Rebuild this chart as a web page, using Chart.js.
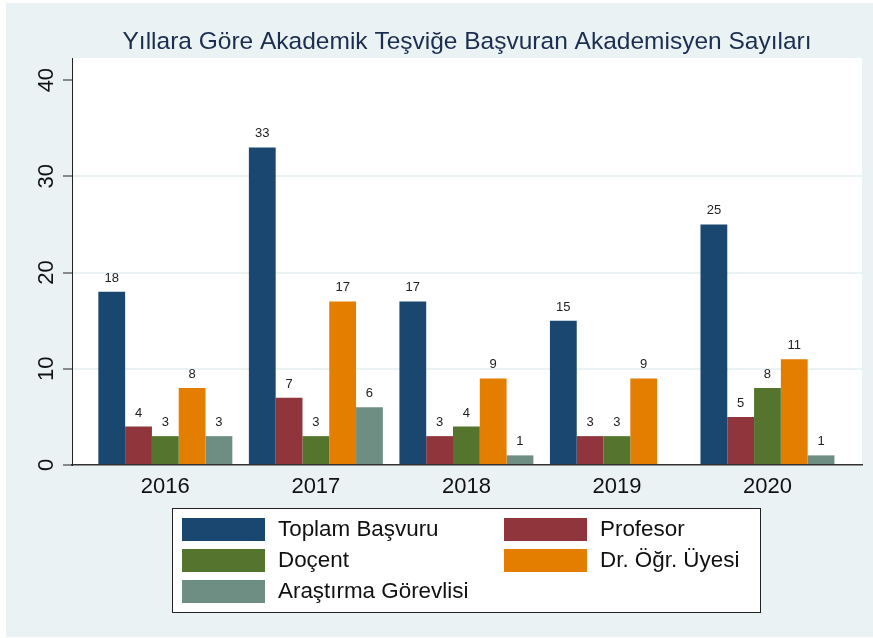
<!DOCTYPE html>
<html>
<head>
<meta charset="utf-8">
<script src="https://cdn.jsdelivr.net/npm/chart.js@4/dist/chart.umd.min.js"></script>
<style>
  html, body { margin: 0; padding: 0; background: #ffffff; }
  #wrap { width: 873px; height: 638px; position: relative; }
</style>
</head>
<body>
<div id="wrap"><canvas id="c" width="873" height="638"></canvas></div>
<script>
// ---- data ----
const years = ['2016', '2017', '2018', '2019', '2020'];
const seriesNames = ['Toplam Başvuru', 'Profesor', 'Doçent', 'Dr. Öğr. Üyesi', 'Araştırma Görevlisi'];
const toplam = [18, 33, 17, 15, 25];
const profesor = [4, 7, 3, 3, 5];
const docent = [3, 3, 4, 3, 8];
const drOgrUyesi = [8, 17, 9, 9, 11];
const arastirma = [3, 6, 1, null, 1];
const yTicks = [0, 10, 20, 30, 40];
const titleText = 'Yıllara Göre Akademik Teşviğe Başvuran Akademisyen Sayıları';

const colors = ['#1a476f', '#90353b', '#55752f', '#e37e00', '#6e8e84'];
const allSeries = [toplam, profesor, docent, drOgrUyesi, arastirma];
const FONT = "'Liberation Sans', Arial, Helvetica, sans-serif";

const datasets = allSeries.map((vals, s) => ({
  label: seriesNames[s],
  data: vals.map((v, i) => ({ x: i, y: v })),
  backgroundColor: colors[s],
  borderWidth: 0,
  categoryPercentage: 0.89,
  barPercentage: 1.0
}));

const bgPlugin = {
  id: 'bg',
  beforeDraw(chart) {
    const { ctx, width, height, chartArea } = chart;
    ctx.save();
    ctx.fillStyle = '#ffffff';
    ctx.fillRect(0, 0, width, height);
    ctx.fillStyle = '#eaf2f3';
    ctx.fillRect(6, 3, width - 6, height - 4);
    ctx.fillStyle = '#ffffff';
    ctx.fillRect(chartArea.left, chartArea.top, chartArea.right - chartArea.left, chartArea.bottom - chartArea.top);
    ctx.restore();
  }
};

const titleShift = {
  id: 'titleShift',
  afterLayout(chart) {
    const tb = chart.titleBlock;
    if (!tb) return;
    const c = (chart.chartArea.left + chart.chartArea.right) / 2;
    const d = c - (tb.left + tb.right) / 2;
    tb.left += d; tb.right += d;
  }
};

const yLabels = {
  id: 'yLabels',
  afterDraw(chart) {
    const { ctx } = chart;
    const ys = chart.scales.y;
    ctx.save();
    ctx.font = '22px ' + FONT;
    ctx.fillStyle = '#111111';
    ctx.textAlign = 'center';
    ctx.textBaseline = 'alphabetic';
    ys.ticks.forEach(t => {
      const py = ys.getPixelForValue(t.value);
      ctx.save();
      ctx.translate(ys.right - 19, py);
      ctx.rotate(-Math.PI / 2);
      ctx.fillText(String(t.value), 0, 0);
      ctx.restore();
    });
    ctx.restore();
  }
};

const valueLabels = {
  id: 'valueLabels',
  afterDatasetsDraw(chart) {
    const { ctx } = chart;
    ctx.save();
    ctx.font = '13px ' + FONT;
    ctx.fillStyle = '#222222';
    ctx.textAlign = 'center';
    ctx.textBaseline = 'alphabetic';
    chart.data.datasets.forEach((ds, di) => {
      const meta = chart.getDatasetMeta(di);
      meta.data.forEach((el, i) => {
        const v = ds.data[i].y;
        if (v === null || v === undefined) return;
        ctx.fillText(String(v), el.x, el.y - 10);
      });
    });
    ctx.restore();
  }
};

const boxLegend = {
  id: 'boxLegend',
  afterDraw(chart) {
    const { ctx, chartArea } = chart;
    const cx = (chartArea.left + chartArea.right) / 2;
    const boxW = 588, boxH = 104;
    const left = Math.round(cx - boxW / 2) - 1, top = chartArea.bottom + 43;
    ctx.save();
    ctx.fillStyle = '#ffffff';
    ctx.fillRect(left, top, boxW, boxH);
    ctx.strokeStyle = '#222222';
    ctx.lineWidth = 1;
    ctx.strokeRect(left + 0.5, top + 0.5, boxW, boxH);
    ctx.font = '22.4px ' + FONT;
    ctx.textAlign = 'left';
    ctx.textBaseline = 'middle';
    const colX = [left + 10, left + 332];
    const rowY = [top + 10, top + 41, top + 72];
    chart.data.datasets.forEach((ds, i) => {
      const col = i % 2, row = Math.floor(i / 2);
      const x = colX[col], y = rowY[row];
      ctx.fillStyle = ds.backgroundColor;
      ctx.fillRect(x, y, 83, 23);
      ctx.fillStyle = '#111111';
      ctx.fillText(ds.label, x + 96, y + 12);
    });
    ctx.restore();
  }
};

new Chart(document.getElementById('c'), {
  type: 'bar',
  data: { datasets },
  plugins: [bgPlugin, titleShift, yLabels, valueLabels, boxLegend],
  options: {
    responsive: false,
    animation: false,
    devicePixelRatio: 1,
    layout: { padding: { left: 0, right: 11, top: 0, bottom: 135 } },
    plugins: {
      legend: { display: false },
      tooltip: { enabled: false },
      title: {
        display: true,
        text: titleText,
        color: '#1c2e4f',
        font: { family: FONT, size: 24.5, weight: 'normal', lineHeight: 1.2 },
        padding: { top: 27.6, bottom: 1 }
      }
    },
    scales: {
      x: {
        type: 'linear',
        min: -0.62,
        max: 4.628,
        offset: false,
        afterBuildTicks(s) { s.ticks = years.map((_, i) => ({ value: i })); },
        afterFit(s) { s.height = 38; },
        grid: { display: false, drawTicks: false, tickLength: 0 },
        border: { display: true, color: '#333333', width: 1.5 },
        ticks: {
          padding: 9,
          color: '#111111',
          font: { family: FONT, size: 22 },
          maxRotation: 0,
          autoSkip: false,
          callback: (v) => years[v] !== undefined ? years[v] : ''
        }
      },
      y: {
        type: 'linear',
        position: 'left',
        min: 0,
        max: 42.3,
        afterBuildTicks(s) { s.ticks = yTicks.map(v => ({ value: v })); },
        afterFit(s) { s.width = 72; },
        grid: {
          color: (c) => (c.tick && (c.tick.value === 0 || c.tick.value === 40)) ? 'rgba(0,0,0,0)' : '#eaf2f3',
          lineWidth: 2,
          tickColor: '#222222',
          tickWidth: 1,
          tickLength: 9,
          drawTicks: true
        },
        border: { display: true, color: '#222222', width: 1 },
        ticks: { display: false }
      }
    }
  }
});
</script>
</body>
</html>
